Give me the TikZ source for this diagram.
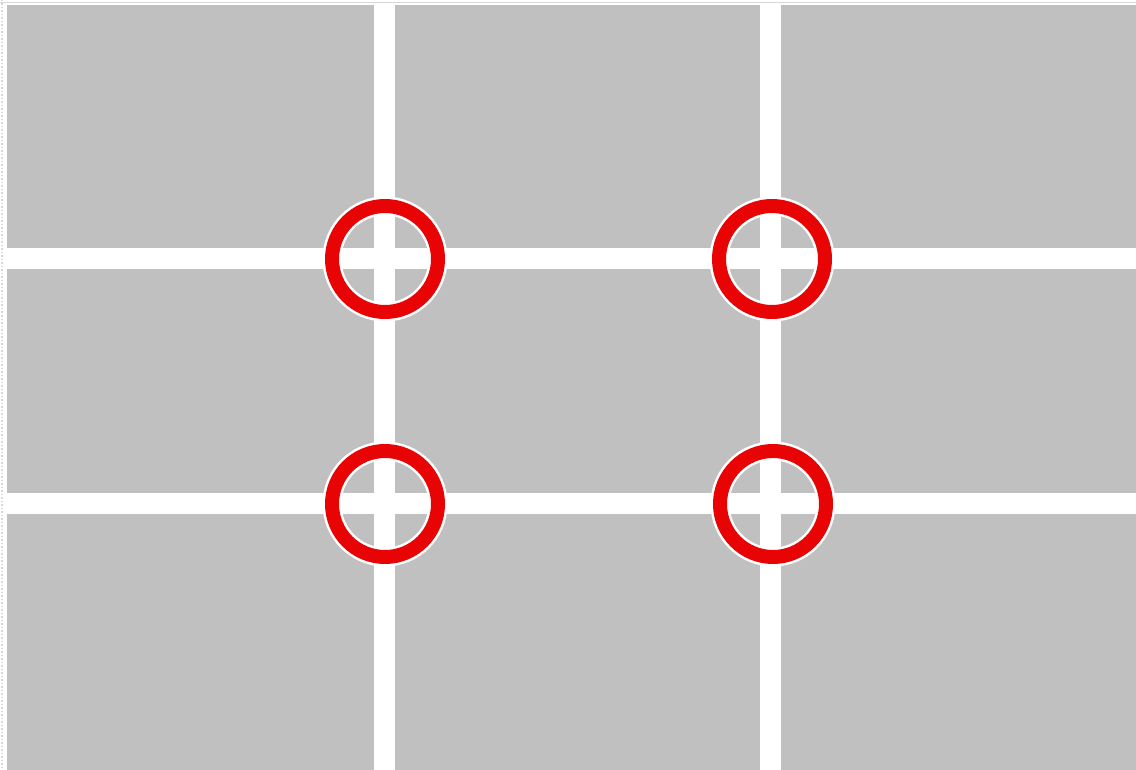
\documentclass[tikz,border=0pt]{standalone}
\definecolor{panelgray}{RGB}{192,192,192}
\definecolor{ringred}{RGB}{232,4,4}
\definecolor{edgegray}{RGB}{215,215,215}
\tikzset{
  gap/.style={white,line width=21pt},
  ringhalo/.style={white,line width=19pt},
  ring/.style={ringred,line width=14pt},
}
\begin{document}
\begin{tikzpicture}[x=1pt,y=-1pt]
\useasboundingbox (0,0) rectangle (1136,770);
\fill[white] (0,0) rectangle (1136,770);
\draw[edgegray,dotted,line width=1.5pt] (2,0) -- (2,770);
\draw[edgegray,line width=1pt] (0,2.5) -- (1136,2.5);
\fill[panelgray] (7,5) rectangle (1136,770);
% grid gaps
\coordinate (v1t) at (384.5,5); \coordinate (v1b) at (384.5,770);
\coordinate (v2t) at (770.5,5); \coordinate (v2b) at (770.5,770);
\coordinate (h1l) at (7,259); \coordinate (h1r) at (1136,259);
\coordinate (h2l) at (7,503); \coordinate (h2r) at (1136,503);
\draw[gap] (v1t) -- (v1b);
\draw[gap] (v2t) -- (v2b);
\draw[gap] (h1l) -- (h1r);
\draw[gap] (h2l) -- (h2r);
% intersection rings
\foreach \n/\x/\y in {a/385/259, b/772/259, c/385/504, d/773/504}{
  \coordinate (\n) at (\x,\y);
  \draw[ringhalo] (\n) circle[radius=53];
  \draw[ring] (\n) circle[radius=53];
}
\end{tikzpicture}
\end{document}
